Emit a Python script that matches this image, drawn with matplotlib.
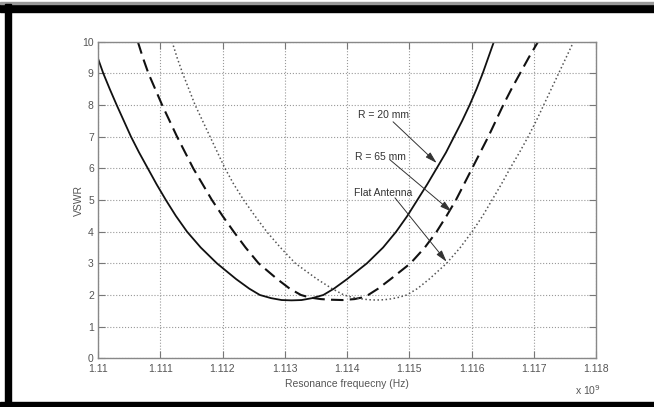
import matplotlib
matplotlib.use("Agg")
import matplotlib.pyplot as plt
from matplotlib.patches import Rectangle

# Frequencies in GHz (axis shows x 10^9 Hz), VSWR values
f_r20 = [1.11000, 1.110085, 1.11019, 1.11030, 1.110415, 1.11053, 1.11066, 1.11080,
         1.11094, 1.11109, 1.11125, 1.11143, 1.11165, 1.11191, 1.11222, 1.11243,
         1.11260, 1.11278, 1.11295, 1.11311, 1.11327, 1.11344, 1.11362, 1.11379,
         1.11400, 1.11432, 1.11458, 1.11479, 1.11497, 1.11513, 1.11529, 1.11544,
         1.11559, 1.11572, 1.11585, 1.11597, 1.11608, 1.11618, 1.11627, 1.11636]
v_r20 = [9.47, 9.0, 8.5, 8.0, 7.5, 7.0, 6.5, 6.0,
         5.5, 5.0, 4.5, 4.0, 3.5, 3.0, 2.5, 2.2,
         2.0, 1.9, 1.84, 1.83, 1.84, 1.9, 2.0, 2.2,
         2.5, 3.0, 3.5, 4.0, 4.5, 5.0, 5.5, 6.0,
         6.5, 7.0, 7.5, 8.0, 8.5, 9.0, 9.5, 10.0]

f_r65 = [1.11064, 1.11072, 1.11081, 1.11092, 1.11103, 1.11115, 1.11127, 1.11140,
         1.11153, 1.11168, 1.11183, 1.11200, 1.11218, 1.11237, 1.11258, 1.11288,
         1.11308, 1.11326, 1.11340, 1.11358, 1.11375, 1.11393, 1.11412, 1.11424,
         1.11434, 1.11450, 1.11470, 1.11502, 1.11525, 1.11544, 1.11560, 1.11575,
         1.11588, 1.11601, 1.11614, 1.11627, 1.11639, 1.11651, 1.11664, 1.11678,
         1.11692, 1.11707]
v_r65 = [10.0, 9.5, 9.0, 8.5, 8.0, 7.5, 7.0, 6.5,
         6.0, 5.5, 5.0, 4.5, 4.0, 3.5, 3.0, 2.5,
         2.2, 2.0, 1.92, 1.87, 1.85, 1.84, 1.87, 1.92,
         2.0, 2.2, 2.5, 3.0, 3.5, 4.0, 4.5, 5.0,
         5.5, 6.0, 6.5, 7.0, 7.5, 8.0, 8.5, 9.0,
         9.5, 10.0]

f_flat = [1.11119, 1.11127, 1.11136, 1.11146, 1.11156, 1.11168, 1.11180, 1.11192,
          1.11204, 1.11218, 1.11234, 1.11252, 1.11271, 1.11293, 1.11317, 1.11352,
          1.11376, 1.11395, 1.11408, 1.11422, 1.11435, 1.11447, 1.11460, 1.11472,
          1.11484, 1.11496, 1.11513, 1.11532, 1.11560, 1.11582, 1.11601, 1.11618,
          1.11633, 1.11648, 1.11662, 1.11677, 1.11691, 1.11704, 1.11716, 1.11728,
          1.11740, 1.11752, 1.11764]
v_flat = [10.0, 9.5, 9.0, 8.5, 8.0, 7.5, 7.0, 6.5,
          6.0, 5.5, 5.0, 4.5, 4.0, 3.5, 3.0, 2.5,
          2.2, 2.0, 1.93, 1.88, 1.85, 1.84, 1.85, 1.88,
          1.93, 2.0, 2.2, 2.5, 3.0, 3.5, 4.0, 4.5,
          5.0, 5.5, 6.0, 6.5, 7.0, 7.5, 8.0, 8.5,
          9.0, 9.5, 10.0]

x_ticks = [1.110, 1.111, 1.112, 1.113, 1.114, 1.115, 1.116, 1.117, 1.118]
x_tick_labels = ["1.11", "1.111", "1.112", "1.113", "1.114", "1.115", "1.116", "1.117", "1.118"]
y_ticks = list(range(0, 11))

plt.rcParams['font.family'] = ['Liberation Sans Narrow', 'Liberation Sans', 'DejaVu Sans']

fig = plt.figure(figsize=(6.54, 4.07), dpi=100)
ax = fig.add_axes([98/654, 1-358.3/407, (596-98)/654, (358.3-41.7)/407])

txtc = '#555555'
ax.plot(f_r20, v_r20, '-', color='#111111', lw=1.3)
ax.plot(f_r65, v_r65, '--', color='#111111', lw=1.5, dashes=(6, 3))
ax.plot(f_flat, v_flat, ':', color='#555555', lw=1.1)

ax.set_xlim(1.110, 1.118)
ax.set_ylim(0, 10)
ax.set_xticks(x_ticks)
ax.set_xticklabels(x_tick_labels)
ax.set_yticks(y_ticks)
ax.grid(True, linestyle=':', color='#999999', lw=0.8)
ax.tick_params(direction='in', length=5, color='#777777', labelcolor=txtc,
               labelsize=7.5, top=True, right=True)
ax.tick_params(axis='x', pad=4)
ax.tick_params(axis='y', pad=3)
for s in ax.spines.values():
    s.set_color('#888888')
    s.set_linewidth(1.0)

ax.set_xlabel('Resonance frequecny (Hz)', color=txtc, fontsize=7.5, labelpad=4)
ax.set_ylabel('VSWR', color=txtc, fontsize=7.5)
ax.yaxis.set_label_coords(-0.028, 0.5)
fig.text(588/654, 1-390/407, r'x 10$^{9}$', color=txtc, fontsize=7.5,
         ha='center', va='center')

arrow = dict(arrowstyle='-|>,head_length=0.7,head_width=0.2', color='#333333', lw=0.7,
             shrinkA=0, shrinkB=0)
ax.annotate('', xy=(1.11544, 6.17), xytext=(1.11474, 7.47), arrowprops=arrow)
ax.annotate('', xy=(1.11568, 4.63), xytext=(1.11469, 6.27), arrowprops=arrow)
ax.annotate('', xy=(1.11560, 3.05), xytext=(1.11477, 5.07), arrowprops=arrow)
ax.text(1.11418, 7.69, 'R = 20 mm', fontsize=7.5, color='#333333', va='center')
ax.text(1.11413, 6.37, 'R = 65 mm', fontsize=7.5, color='#333333', va='center')
ax.text(1.11412, 5.22, 'Flat Antenna', fontsize=7.5, color='#333333', va='center')

# black frame bands
fig.patches.append(Rectangle((0, 1-12/407), 1, 8/407, transform=fig.transFigure,
                             color='black', zorder=10))
fig.patches.append(Rectangle((0, 1-4/407), 1, 1.5/407, transform=fig.transFigure,
                             color='#999999', zorder=10))
fig.patches.append(Rectangle((5/654, 0), 6/654, 1-4/407, transform=fig.transFigure,
                             color='black', zorder=10))
fig.patches.append(Rectangle((0, 0), 1, 5/407, transform=fig.transFigure,
                             color='black', zorder=10))

fig.savefig('out.png', dpi=100)
